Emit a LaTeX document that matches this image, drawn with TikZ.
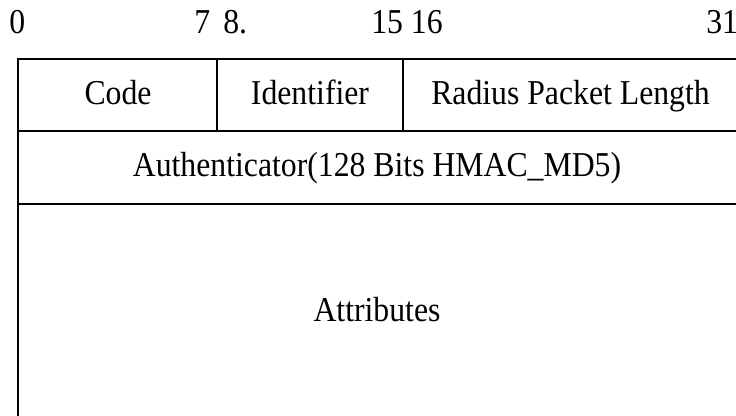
\documentclass[tikz,border=0pt]{standalone}
\usepackage{fontspec}
\setmainfont{Liberation Serif}
\newcommand{\tallface}[1]{\scalebox{1}[1.1]{#1}}
\begin{document}
\begin{tikzpicture}[x=0.75pt,y=-0.75pt,
  rule/.style={line width=2.1pt,line cap=rect},
  field/.style={inner sep=0pt,anchor=base,font=\fontsize{23.8}{28}\selectfont},
  bitno/.style={inner sep=0pt,anchor=base west,font=\fontsize{23.8}{28}\selectfont}]
\useasboundingbox (0,0) rectangle (736,415);
\clip (0,0) rectangle (736,415);
% bit numbers
\node[bitno] (b0)  at (9,33)   {\tallface{0}};
\node[bitno] (b7)  at (194,33) {\tallface{7}};
\node[bitno] (b8)  at (223,33) {\tallface{8.}};
\node[bitno] (b15) at (371,33) {\tallface{15 16}};
\node[bitno] (b31) at (706,33) {\tallface{31}};
% frame corners
\coordinate (tl) at (18,59);
\coordinate (tr) at (739,59);
\coordinate (bl) at (18,420);
\coordinate (r1l) at (18,131);
\coordinate (r1r) at (739,131);
\coordinate (r2l) at (18,204);
\coordinate (r2r) at (739,204);
\coordinate (d1t) at (217,59);
\coordinate (d1b) at (217,131);
\coordinate (d2t) at (403,59);
\coordinate (d2b) at (403,131);
% packet layout
\draw[rule] (bl) -- (tl) -- (tr);
\draw[rule] (r1l) -- (r1r);
\draw[rule] (r2l) -- (r2r);
\draw[rule] (d1t) -- (d1b);
\draw[rule] (d2t) -- (d2b);
% field labels
\node[field] (code)  at (118,104)   {\tallface{Code}};
\node[field] (ident) at (310,104)   {\tallface{Identifier}};
\node[field] (len)   at (570.5,104) {\tallface{Radius Packet Length}};
\node[field] (auth)  at (377,176.5) {\tallface{Authenticator(128 Bits HMAC\_MD5)}};
\node[field] (attr)  at (377,321)   {\tallface{Attributes}};
\end{tikzpicture}
\end{document}
